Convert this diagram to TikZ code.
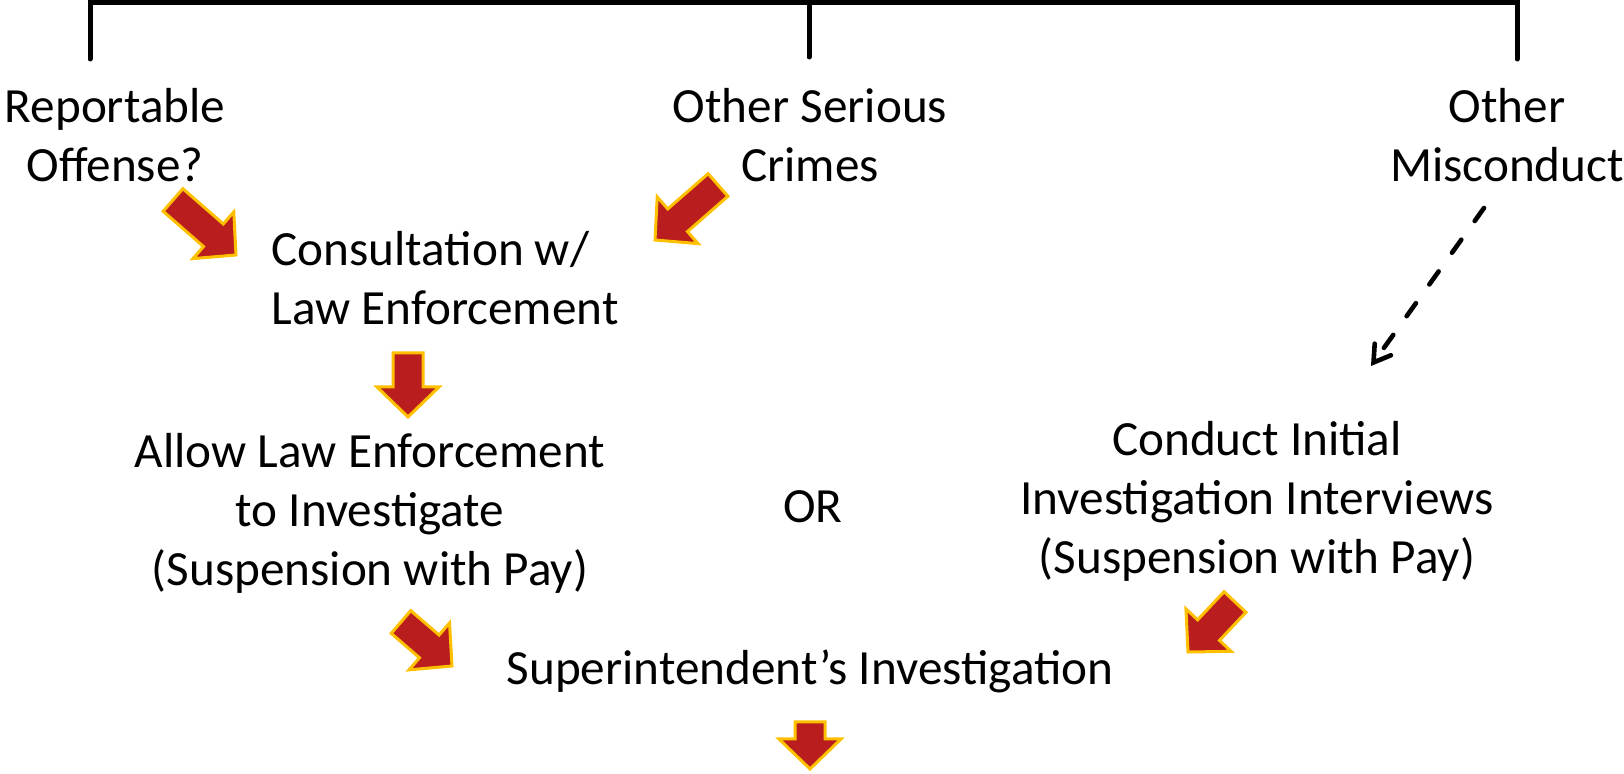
\documentclass[tikz,border=0pt]{standalone}
\usepackage{fontspec}
\setmainfont{Carlito}
\usetikzlibrary{calc,arrows.meta}
\definecolor{arrowred}{RGB}{185,29,29}
\definecolor{arrowgold}{RGB}{255,192,0}
\tikzset{
  lbl/.style={font=\fontsize{24.6}{29.5}\selectfont, align=center, inner sep=0pt},
  blockarrow/.style={fill=arrowred, draw=arrowgold, line width=1.5pt, line join=miter},
  bracket/.style={line width=2.5pt, line cap=round, line join=miter},
  dashedarrow/.style={line width=2.3pt, dash pattern=on 8pt off 11.5pt, line cap=round,
    -{Straight Barb[length=8pt,width=10pt,line cap=round]}},
}
\newcommand\blockarr[2]{%
  \coordinate (ba-s) at ($(#2)!15pt!(#1)$);
  \draw[blockarrow] ($(#1)!7.5pt!90:(#2)$) -- ($(ba-s)!7.5pt!90:(#2)$) -- ($(ba-s)!15.5pt!90:(#2)$)
    -- (#2) -- ($(ba-s)!15.5pt!-90:(#2)$) -- ($(ba-s)!7.5pt!-90:(#2)$) -- ($(#1)!7.5pt!-90:(#2)$) -- cycle;}
\begin{document}
\begin{tikzpicture}[x=0.5pt,y=-0.5pt]
\useasboundingbox (0,0) rectangle (1624,774);
% bracket
\coordinate (bl) at (90,59);
\coordinate (bm) at (809,57);
\coordinate (br) at (1517,59);
\coordinate (tl) at (90,2.5);
\coordinate (tm) at (809,2.5);
\coordinate (tr) at (1517,2.5);
\draw[bracket] (bl) -- (tl) -- (tr) -- (br);
\draw[bracket] (tm) -- (bm);
% texts
\node[lbl] (rep) at (115,135) {Reportable\\Offense?};
\node[lbl] (osc) at (810,135) {Other Serious\\Crimes};
\node[lbl] (om) at (1507,135) {Other\\Misconduct};
\node[lbl, align=left, anchor=west] (cons) at (271,278) {Consultation w/\\Law Enforcement};
\node[lbl] (allow) at (370,513) {Allow Law Enforcement\\to Investigate\\(Suspension with Pay)};
\node[lbl] (orn) at (813,507) {OR};
\node[lbl] (cond) at (1257,501) {Conduct Initial\\Investigation Interviews\\(Suspension with Pay)};
\node[lbl] (sup) at (810,671) {Superintendent’s Investigation};
% block arrows
\coordinate (a1t) at (173,200); \coordinate (a1h) at (236,255);
\coordinate (a2t) at (718,185); \coordinate (a2h) at (655,240);
\coordinate (a3t) at (408,353); \coordinate (a3h) at (408,417);
\coordinate (a4t) at (401,622); \coordinate (a4h) at (452,666);
\coordinate (a5t) at (1235,602); \coordinate (a5h) at (1188,652);
\coordinate (a6t) at (810,722); \coordinate (a6h) at (810,769);
\blockarr{a1t}{a1h}
\blockarr{a2t}{a2h}
\blockarr{a3t}{a3h}
\blockarr{a4t}{a4h}
\blockarr{a5t}{a5h}
\blockarr{a6t}{a6h}
% dashed arrow
\coordinate (d1) at (1484,208);
\coordinate (d2) at (1371,366);
\draw[dashedarrow] (d1) -- (d2);
\end{tikzpicture}
\end{document}
